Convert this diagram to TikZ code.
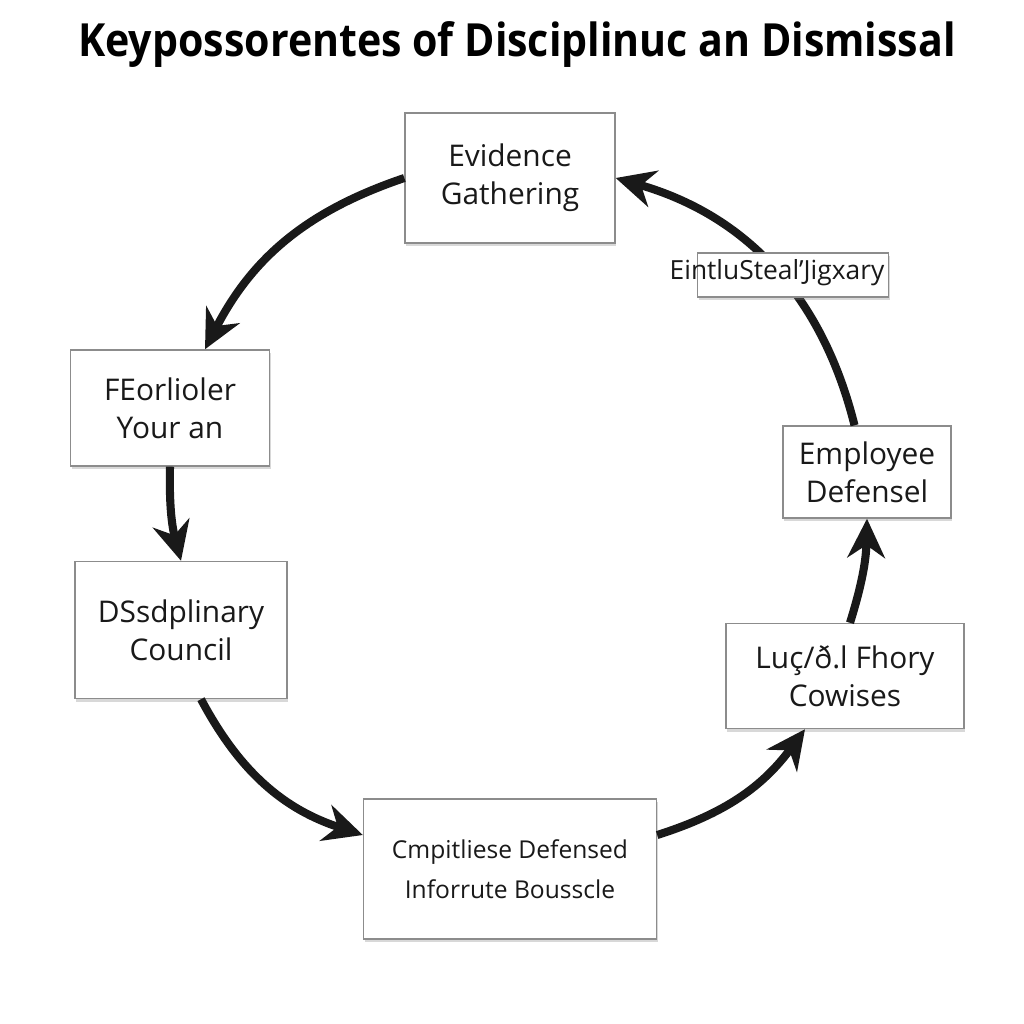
\documentclass[tikz,border=0pt]{standalone}
\usepackage{fontspec}
\setmainfont{Open Sans}
\usetikzlibrary{arrows.meta,shadows}

\begin{document}
\begin{tikzpicture}[
    x=0.02cm, y=-0.02cm,
    >={Stealth[length=0.78cm,width=0.75cm]},
    stage/.style={
        draw=black!45,
        fill=white,
        line width=0.8pt,
        align=center,
        inner sep=2pt,
        text=black!90,
        font=\fontsize{17}{21.5}\selectfont,
        drop shadow={shadow xshift=0.6pt,shadow yshift=-1.8pt,opacity=0.3}
    },
    flow/.style={
        ->,
        line width=4.6pt,
        black!90
    }
    ]
    \useasboundingbox[fill=white] (0,0) rectangle (1024,1024);

    \node[font=\fontsize{26}{29}\selectfont\bfseries] (title) at (517,45)
        {\scalebox{0.9}[1]{Keypossorentes of Disciplinuc an Dismissal}};

    % stages round the circle
    \node[stage,minimum width=4.2cm,minimum height=2.6cm] (evid) at (510,178)
        {Evidence\\Gathering};
    \node[stage,minimum width=3.98cm,minimum height=2.32cm] (feor) at (170,408)
        {FEorlioler\\Your an};
    \node[stage,minimum width=4.24cm,minimum height=2.74cm] (disc) at (181,630)
        {DSsdplinary\\Council};
    \node[stage,minimum width=5.86cm,minimum height=2.8cm,
        font=\fontsize{14}{22.5}\selectfont] (cmpi) at (510,869)
        {Cmpitliese Defensed\\Inforrute Bousscle};
    \node[stage,minimum width=4.76cm,minimum height=2.1cm] (lucf) at (845,676)
        {Luç/ð.l Fhory\\Cowises};
    \node[stage,minimum width=3.36cm,minimum height=1.84cm] (empl) at (867,472)
        {Employee\\Defensel};

    \draw[flow] (evid.west) to[bend right=22] ([xshift=0.7cm]feor.north);
    \draw[flow] (feor.south) to[bend right=8] (disc.north);
    \draw[flow] ([xshift=0.4cm]disc.south) to[bend right=22] ([yshift=0.68cm]cmpi.west);
    \draw[flow] ([yshift=0.68cm]cmpi.east) to[bend right=18] ([xshift=-0.8cm]lucf.south);
    \draw[flow] ([xshift=0.1cm]lucf.north) to[bend right=8] (empl.south);
    \draw[flow] ([xshift=-0.25cm]empl.north) to[bend right=30] (evid.east);

    % label on the last arc
    \node[stage,minimum width=3.82cm,minimum height=0.88cm] (eint) at (793,275) {};
    \node[font=\fontsize{15}{17}\selectfont,text=black!90] (eintlbl) at (777,273)
        {EintluSteal’Jigxary};
\end{tikzpicture}
\end{document}
